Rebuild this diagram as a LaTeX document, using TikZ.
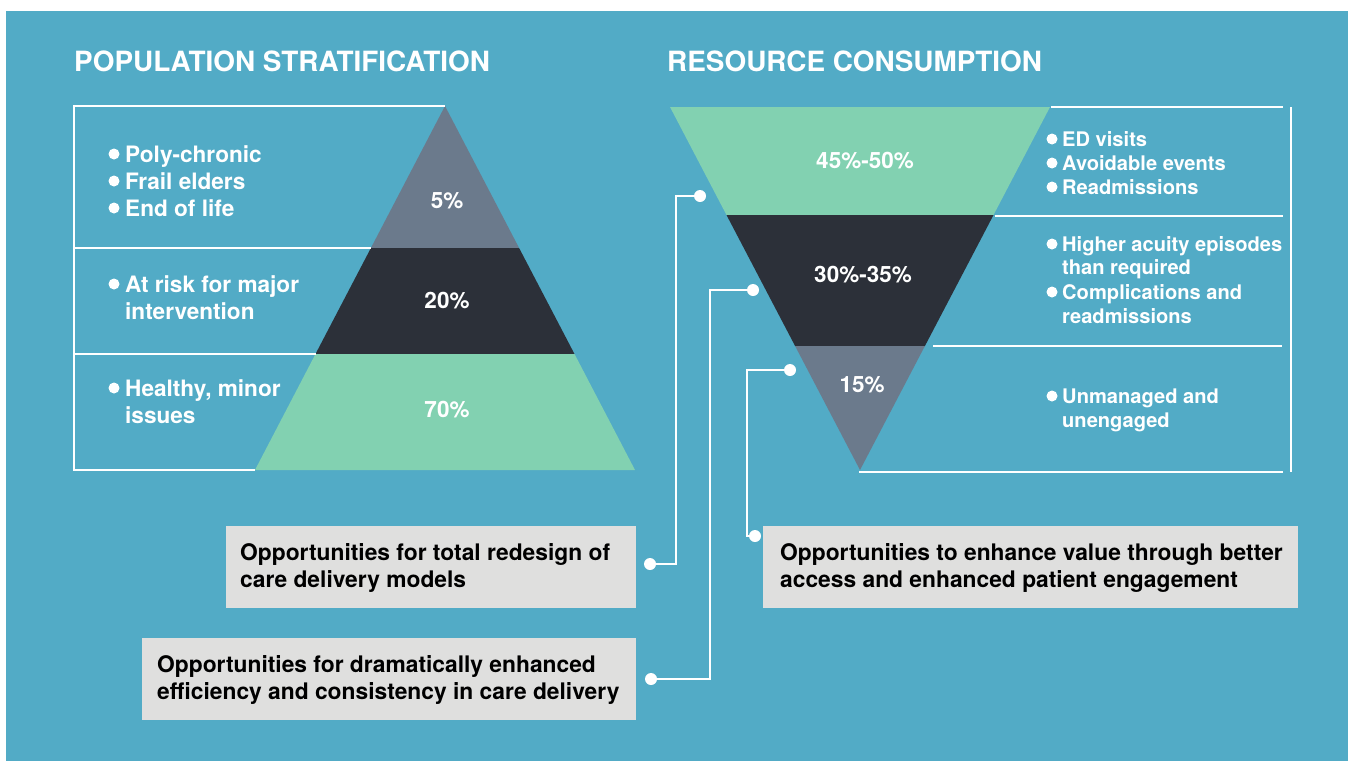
\documentclass[tikz,border=0pt]{standalone}
\usepackage{fontspec}
\setmainfont{TeX Gyre Heros}
\usetikzlibrary{calc}
\definecolor{bgblue}{HTML}{52ABC6}
\definecolor{tgreen}{HTML}{82D1B1}
\definecolor{tdark}{HTML}{2C3039}
\definecolor{tgray}{HTML}{6B7A8C}
\definecolor{boxgray}{HTML}{DFDFDE}
\begin{document}
\begin{tikzpicture}[x=1pt,y=-1pt,
  frame/.style={draw=white,line width=2.5pt},
  conn/.style={draw=white,line width=2.5pt},
  dotnode/.style={circle,fill=white,inner sep=0pt,minimum size=12pt},
  bul/.style={circle,fill=white,inner sep=0pt,minimum size=11pt},
  title/.style={font=\bfseries\fontsize{27.9}{32}\selectfont,text=white,anchor=base west,inner sep=0pt},
  ltxt/.style={font=\bfseries\fontsize{22.6}{27}\selectfont,text=white,anchor=base west,inner sep=0pt},
  rtxt/.style={font=\bfseries\fontsize{20.1}{24}\selectfont,text=white,anchor=base west,inner sep=0pt},
  pct/.style={font=\bfseries\fontsize{22.5}{25}\selectfont,text=white,anchor=base,inner sep=0pt},
  btxt/.style={font=\bfseries\fontsize{22.8}{27}\selectfont,text=black,anchor=base west,inner sep=0pt},
  greybox/.style={fill=boxgray,inner sep=0pt,anchor=north west}
]
\useasboundingbox (0,0) rectangle (1348,761);
\fill[white] (0,0) rectangle (1348,761);
\fill[bgblue] (6,11) rectangle (1348,761);

% titles
\node[title] (t1) at (74,71) {POPULATION STRATIFICATION};
\node[title] (t2) at (667,71) {RESOURCE CONSUMPTION};

% ---------- left pyramid ----------
\fill[tgray] (445,106) -- (519.1,248) -- (370.9,248) -- cycle;
\fill[tdark] (370.9,248) -- (519.1,248) -- (574.5,354) -- (315.5,354) -- cycle;
\fill[tgreen] (315.5,354) -- (574.5,354) -- (635,470) -- (255,470) -- cycle;

\draw[frame] (74,106) -- (445,106);
\draw[frame] (74,104.8) -- (74,471.2);
\draw[frame] (74,248) -- (370.9,248);
\draw[frame] (74,354) -- (315.5,354);
\draw[frame] (74,470) -- (255,470);

\node[pct] (p5) at (447,208) {5\%};
\node[pct] (p20) at (447,308) {20\%};
\node[pct] (p70) at (447,417) {70\%};

\node[bul] (lb1) at (114,154) {};
\node[bul] (lb2) at (114,181) {};
\node[bul] (lb3) at (114,208) {};
\node[bul] (lb4) at (114,284) {};
\node[bul] (lb5) at (114,388) {};
\node[ltxt] (la1) at (125,162) {Poly-chronic};
\node[ltxt] (la2) at (125,189) {Frail elders};
\node[ltxt] (la3) at (125,216) {End of life};
\node[ltxt] (la4) at (125,292) {At risk for major};
\node[ltxt] (la5) at (125,319) {intervention};
\node[ltxt] (la6) at (125,396) {Healthy, minor};
\node[ltxt] (la7) at (125,423) {issues};

% ---------- right funnel ----------
\fill[tgreen] (670,107) -- (1050,107) -- (993.5,215) -- (726.5,215) -- cycle;
\fill[tdark] (726.5,215) -- (993.5,215) -- (924.9,346) -- (795.1,346) -- cycle;
\fill[tgray] (795.1,346) -- (924.9,346) -- (860,470) -- cycle;

\draw[frame] (1051,107) -- (1283,107);
\draw[frame] (995,216) -- (1283,216);
\draw[frame] (933,346) -- (1282,346);
\draw[frame] (859,472) -- (1283,472);
\draw[frame] (1291,107) -- (1291,472);

\node[pct] (p45) at (865,168) {45\%-50\%};
\node[pct] (p30) at (863,282) {30\%-35\%};
\node[pct] (p15) at (862,392) {15\%};

\node[bul] (rb1) at (1052,139) {};
\node[bul] (rb2) at (1052,163) {};
\node[bul] (rb3) at (1052,187) {};
\node[bul] (rb4) at (1052,244) {};
\node[bul] (rb5) at (1052,292) {};
\node[bul] (rb6) at (1052,396) {};
\node[rtxt] (ra1) at (1062,146) {ED visits};
\node[rtxt] (ra2) at (1062,170) {Avoidable events};
\node[rtxt] (ra3) at (1062,194) {Readmissions};
\node[rtxt] (ra4) at (1062,251) {Higher acuity episodes};
\node[rtxt] (ra5) at (1062,274) {than required};
\node[rtxt] (ra6) at (1062,299) {Complications and};
\node[rtxt] (ra7) at (1062,323) {readmissions};
\node[rtxt] (ra8) at (1062,403) {Unmanaged and};
\node[rtxt] (ra9) at (1062,427) {unengaged};

% ---------- boxes ----------
\node[greybox,minimum width=410pt,minimum height=82pt] (box1) at (226,526) {};
\node[greybox,minimum width=494pt,minimum height=82pt] (box2) at (142,638) {};
\node[greybox,minimum width=535pt,minimum height=82pt] (box3) at (763,526) {};

\node[btxt] (bt1) at (240,560) {Opportunities for total redesign of};
\node[btxt] (bt2) at (240,587) {care delivery models};
\node[btxt] (bt3) at (157,672) {Opportunities for dramatically enhanced};
\node[btxt] (bt4) at (157,699) {efficiency and consistency in care delivery};
\node[btxt] (bt5) at (780,560) {Opportunities to enhance value through better};
\node[btxt] (bt6) at (780,587) {access and enhanced patient engagement};

% ---------- connectors ----------
\coordinate (c1) at (676,196);
\coordinate (c2) at (710,290);
\coordinate (c3) at (747,370);
\node[dotnode] (d1a) at (700,196) {};
\node[dotnode] (d1b) at (650,564) {};
\node[dotnode] (d2a) at (753,290) {};
\node[dotnode] (d2b) at (651,679) {};
\node[dotnode] (d3a) at (790,370) {};
\node[dotnode] (d3b) at (755,536) {};
\draw[conn] (d1a.center) -| (c1) |- (d1b.center);
\draw[conn] (d2a.center) -| (c2) |- (d2b.center);
\draw[conn] (d3a.center) -| (c3) |- (d3b.center);
\end{tikzpicture}
\end{document}
